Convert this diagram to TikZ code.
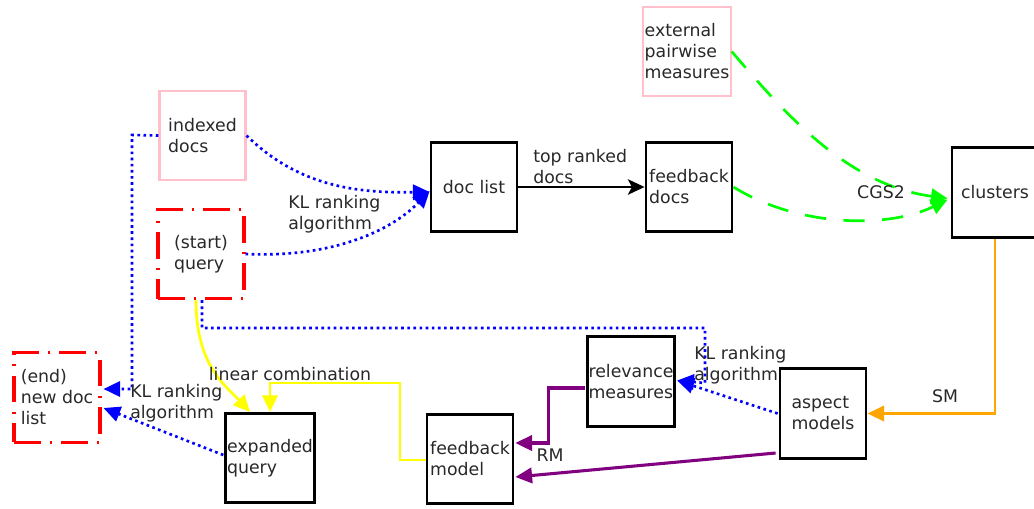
\documentclass[tikz,border=0pt]{standalone}
\usepackage{fontspec}
\setmainfont{DejaVu Sans}
\usetikzlibrary{arrows.meta,calc}
\definecolor{pinkc}{RGB}{255,192,203}
\definecolor{greenc}{RGB}{0,255,0}
\definecolor{yellowc}{RGB}{255,255,0}
\definecolor{orangec}{RGB}{255,165,0}
\definecolor{purplec}{RGB}{128,0,128}
\definecolor{txt}{RGB}{40,40,40}
\begin{document}
\begin{tikzpicture}[x=0.75pt,y=-0.75pt,
  font=\fontsize{13}{15.75}\selectfont,
  box/.style={draw=black, line width=2.1pt, minimum width=64.5pt, minimum height=67pt, align=left, inner sep=1pt, text=txt},
  pinkbox/.style={box, draw=pinkc, line width=1.6pt},
  redbox/.style={box, draw=red, line width=2.3pt, dash pattern=on 20pt off 7pt on 1.5pt off 7pt},
  lbl/.style={align=left, inner sep=0pt, text=txt},
  tip/.style={-{Triangle[length=12.5pt,width=11.5pt]}},
  bluedot/.style={blue, line width=2pt, dash pattern=on 2pt off 2.6pt, tip},
  greendash/.style={greenc, line width=2pt, dash pattern=on 16pt off 13pt, tip},
  yel/.style={yellowc, line width=2pt, tip},
  ora/.style={orangec, line width=2pt, tip},
  pur/.style={purplec, line width=2.3pt, tip},
  blk/.style={black, line width=2.1pt, -{Stealth[length=12.5pt,width=11.5pt,inset=3pt]}}
]
\useasboundingbox (0,0) rectangle (1034,508);

% nodes
\node[pinkbox] (idx) at (202.5,135.5) {indexed\\docs};
\node[redbox] (start) at (201,254) {(start)\\query};
\node[box] (doclist) at (474,187) {doc list};
\node[box] (fbdocs) at (689,187) {feedback\\docs};
\node[pinkbox] (ext) at (687,51.5) {external\\pairwise\\measures};
\node[box] (clusters) at (995,192.5) {clusters};
\node[redbox] (endlist) at (57,397.5) {(end)\\new doc\\list};
\node[box] (expq) at (270,458) {expanded\\query};
\node[box] (fbmodel) at (470,459) {feedback\\model};
\node[box] (relm) at (631,381.5) {relevance\\measures};
\node[box] (aspect) at (823,413.5) {aspect\\models};

% coordinates for bends
\coordinate (b1) at (132,135);
\coordinate (b2) at (705,328);
\coordinate (b3) at (400,383);

% blue dotted connectors
\draw[bluedot] (idx.west) -- (b1) |- ($(endlist.east)+(2,-8.5)$);
\draw[bluedot] (idx.east) .. controls (300,188) and (360,193) .. ($(doclist.west)+(0,5)$);
\draw[bluedot] (start.east) .. controls (330,258) and (390,232) .. ($(doclist.west)+(0,4)$);
\draw[bluedot] ($(start.south)+(1,0)$) |- (b2) -- ($(b2)+(0,55)$) -- ($(relm.east)+(1,-1)$);
\draw[bluedot] ($(aspect.west)+(-1,0)$) -- ($(relm.east)+(1,-1)$);
\draw[bluedot] ($(expq.west)+(-1,-3)$) -- ($(endlist.east)+(2,10.5)$);

% yellow
\draw[yel] ($(start.south)+(-5,0)$) .. controls (196,365) and (225,385) .. ($(expq.north)+(-20,0)$);
\draw[yel] ($(fbmodel.west)+(0,1)$) -| (b3) -| (expq.north);

% black
\draw[blk] (doclist.east) -- (fbdocs.west);

% green
\draw[greendash] (fbdocs.east) .. controls (800,228) and (890,228) .. ($(clusters.west)+(-3,7)$);
\draw[greendash] (ext.east) .. controls (790,120) and (850,185) .. ($(clusters.west)+(-3,6)$);

% orange
\draw[ora] (clusters.south) |- (aspect.east);

% purple
\draw[pur] ($(relm.west)+(-1,6.5)$) -- ++(-36,0) |- ($(fbmodel.east)+(1,-16)$);
\draw[pur] ($(aspect.west)+(-3,39.5)$) -- ($(fbmodel.east)+(1,18)$);

% labels
\node[lbl, anchor=north west] (l1) at (288,195) {KL ranking\\algorithm};
\node[lbl, anchor=north west] (l2) at (533,149) {top ranked\\docs};
\node[lbl] (l3) at (881,192) {CGS2};
\node[lbl] (l4) at (290,374) {linear combination};
\node[lbl, anchor=north west] (l5) at (130,384) {KL ranking\\algorithm};
\node[lbl, anchor=north west] (l6) at (694,346) {KL ranking\\algorithm};
\node[lbl] (l7) at (945,396) {SM};
\node[lbl] (l8) at (550,455) {RM};
\end{tikzpicture}
\end{document}
